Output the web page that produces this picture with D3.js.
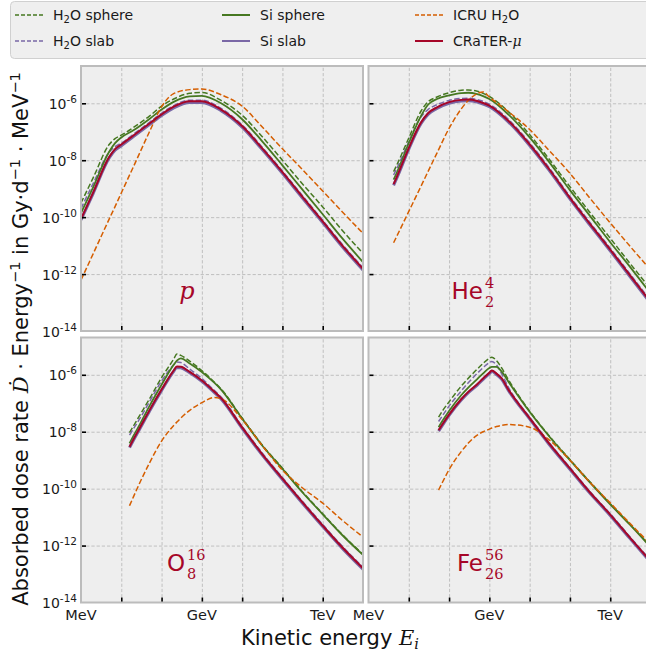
<!DOCTYPE html>
<html>
<head>
<meta charset="utf-8">
<script src="https://cdn.jsdelivr.net/npm/d3@7"></script>
<style>
  body { margin: 0; background: #ffffff; }
  svg { display: block; font-family: "DejaVu Sans", sans-serif; }
</style>
</head>
<body>
<svg id="chart" width="646" height="654"></svg>
<script>
// ---- data: kinetic energy in MeV, dose rates as log10(Gy/d/MeV) ----
const protonEnergy = [1, 2, 5, 7, 10, 20, 50, 100, 200, 500, 1000, 3000, 1e4, 3e4, 1e5, 3e5, 1e6, 3e6, 1e7];
const protonH2OSphere = [-9.50, -8.62, -7.45, -7.24, -7.12, -6.85, -6.45, -6.10, -5.85, -5.65, -5.62, -5.90, -6.42, -7.14, -8.00, -8.80, -9.64, -10.45, -11.27];
const protonH2OSlab   = [-9.70, -8.82, -7.72, -7.52, -7.40, -7.09, -6.67, -6.35, -6.08, -5.89, -5.89, -6.18, -6.76, -7.51, -8.38, -9.21, -10.11, -10.94, -11.78];
const protonSiSphere  = [-9.86, -8.95, -7.70, -7.40, -7.20, -6.95, -6.55, -6.22, -5.95, -5.76, -5.74, -6.00, -6.56, -7.30, -8.18, -9.00, -9.90, -10.73, -11.58];
const protonSiSlab    = [-10.10, -9.17, -7.92, -7.65, -7.49, -7.17, -6.75, -6.43, -6.16, -5.97, -5.97, -6.26, -6.84, -7.59, -8.46, -9.29, -10.19, -11.02, -11.86];
const protonICRU      = [-12.21, -11.29, -10.07, -9.63, -9.15, -8.23, -7.00, -6.12, -5.66, -5.52, -5.50, -5.70, -6.10, -6.80, -7.60, -8.30, -9.08, -9.80, -10.57];
const protonCrater    = [-10.07, -9.14, -7.89, -7.61, -7.45, -7.13, -6.71, -6.39, -6.12, -5.93, -5.93, -6.22, -6.80, -7.55, -8.42, -9.25, -10.15, -10.98, -11.82];

const heliumEnergy = [4.2, 5, 10, 20, 30, 50, 100, 200, 300, 500, 700, 1000, 3000, 1e4, 3e4, 1e5, 3e5, 1e6, 3e6, 1e7];
const heliumH2OSphere = [-8.40, -8.18, -7.22, -6.28, -5.95, -5.78, -5.63, -5.54, -5.53, -5.58, -5.65, -5.76, -6.30, -7.10, -7.95, -8.93, -9.80, -10.74, -11.60, -12.52];
const heliumH2OSlab   = [-8.52, -8.30, -7.35, -6.48, -6.22, -6.05, -5.90, -5.83, -5.82, -5.87, -5.93, -6.03, -6.57, -7.39, -8.25, -9.27, -10.15, -11.09, -11.97, -12.93];
const heliumSiSphere  = [-8.68, -8.45, -7.40, -6.45, -6.05, -5.85, -5.72, -5.64, -5.63, -5.68, -5.75, -5.85, -6.40, -7.20, -8.05, -9.05, -9.92, -10.88, -11.72, -12.68];
const heliumSiSlab    = [-8.88, -8.64, -7.61, -6.72, -6.39, -6.18, -6.00, -5.92, -5.91, -5.96, -6.03, -6.12, -6.66, -7.48, -8.34, -9.36, -10.24, -11.18, -12.06, -13.02];
const heliumICRU      = [-10.90, -10.68, -9.80, -8.92, -8.40, -7.75, -6.88, -6.20, -5.90, -5.66, -5.60, -5.78, -6.30, -6.92, -7.65, -8.46, -9.30, -10.20, -11.00, -11.85];
const heliumCrater    = [-8.84, -8.60, -7.57, -6.68, -6.35, -6.14, -5.96, -5.88, -5.87, -5.92, -5.99, -6.08, -6.62, -7.44, -8.30, -9.32, -10.20, -11.14, -12.02, -12.98];

const oxygenEnergy = [16, 20, 30, 50, 100, 200, 240, 300, 500, 1000, 2000, 3000, 1e4, 3e4, 1e5, 3e5, 1e6, 3e6, 1e7];
const oxygenH2OSphere = [-8.03, -7.80, -7.38, -6.85, -6.10, -5.45, -5.27, -5.32, -5.52, -5.85, -6.25, -6.50, -7.52, -8.43, -9.28, -10.08, -10.88, -11.60, -12.31];
const oxygenH2OSlab   = [-8.12, -7.90, -7.50, -6.95, -6.22, -5.65, -5.55, -5.57, -5.80, -6.13, -6.54, -6.78, -7.81, -8.71, -9.61, -10.41, -11.26, -12.01, -12.76];
const oxygenSiSphere  = [-8.41, -8.15, -7.70, -7.10, -6.35, -5.65, -5.50, -5.42, -5.60, -5.90, -6.27, -6.52, -7.54, -8.45, -9.30, -10.10, -10.90, -11.62, -12.33];
const oxygenSiSlab    = [-8.56, -8.30, -7.85, -7.28, -6.55, -5.88, -5.74, -5.75, -5.93, -6.23, -6.61, -6.85, -7.88, -8.78, -9.68, -10.48, -11.33, -12.08, -12.83];
const oxygenICRU      = [-10.60, -10.29, -9.74, -9.10, -8.33, -7.78, -7.66, -7.52, -7.25, -6.98, -6.80, -6.84, -7.57, -8.45, -9.35, -9.95, -10.51, -11.10, -11.70];
const oxygenCrater    = [-8.53, -8.27, -7.82, -7.25, -6.52, -5.85, -5.71, -5.72, -5.90, -6.20, -6.58, -6.82, -7.85, -8.75, -9.65, -10.45, -11.30, -12.05, -12.80];

const ironEnergy = [55, 70, 100, 200, 300, 500, 700, 1000, 1150, 1500, 2000, 3000, 1e4, 3e4, 1e5, 3e5, 1e6, 3e6, 1e7];
const ironH2OSphere = [-7.49, -7.25, -6.95, -6.40, -6.12, -5.80, -5.60, -5.42, -5.38, -5.50, -5.75, -6.18, -7.28, -8.13, -8.98, -9.73, -10.53, -11.23, -12.03];
const ironH2OSlab   = [-7.64, -7.42, -7.10, -6.57, -6.28, -5.95, -5.75, -5.57, -5.53, -5.65, -5.95, -6.45, -7.49, -8.37, -9.26, -10.07, -10.88, -11.67, -12.52];
const ironSiSphere  = [-7.84, -7.60, -7.27, -6.72, -6.45, -6.15, -5.95, -5.76, -5.72, -5.72, -5.88, -6.25, -7.30, -8.15, -9.00, -9.75, -10.55, -11.25, -12.05];
const ironSiSlab    = [-7.98, -7.75, -7.43, -6.89, -6.63, -6.36, -6.16, -5.96, -5.88, -5.99, -6.15, -6.56, -7.55, -8.43, -9.32, -10.13, -10.94, -11.73, -12.58];
const ironICRU      = [-10.05, -9.75, -9.33, -8.70, -8.40, -8.12, -8.00, -7.91, -7.87, -7.82, -7.78, -7.75, -7.84, -8.28, -9.00, -9.75, -10.50, -11.20, -11.95];
const ironCrater    = [-7.95, -7.72, -7.40, -6.86, -6.60, -6.33, -6.13, -5.93, -5.85, -5.96, -6.12, -6.53, -7.52, -8.40, -9.29, -10.10, -10.91, -11.70, -12.55];

// axis ticks
const xGridValues = [10, 100, 1e3, 1e4, 1e5, 1e6];
const xTickLabels = [[1, "MeV"], [1e3, "GeV"], [1e6, "TeV"]];
const yTickValues = [1e-14, 1e-12, 1e-10, 1e-8, 1e-6];
const yTickExponents = ["-14", "-12", "-10", "-8", "-6"];

// series styles (drawing order)
const seriesStyles = [
  { name: "H2O sphere", color: "#467821", dash: "5.5,2.4", width: 1.5 },
  { name: "H2O slab",   color: "#7A68A6", dash: "5.5,2.4", width: 1.5 },
  { name: "Si sphere",  color: "#467821", dash: null, width: 1.8 },
  { name: "Si slab",    color: "#7A68A6", dash: null, width: 3 },
  { name: "ICRU H2O",   color: "#D55E00", dash: "5.5,2.4", width: 1.5 },
  { name: "CRaTER-mu",  color: "#A60628", dash: null, width: 2 }
];

const panels = [
  { col: 0, row: 0, energy: protonEnergy, series: [protonH2OSphere, protonH2OSlab, protonSiSphere, protonSiSlab, protonICRU, protonCrater], label: "p" },
  { col: 1, row: 0, energy: heliumEnergy, series: [heliumH2OSphere, heliumH2OSlab, heliumSiSphere, heliumSiSlab, heliumICRU, heliumCrater], label: ["He", "4", "2"] },
  { col: 0, row: 1, energy: oxygenEnergy, series: [oxygenH2OSphere, oxygenH2OSlab, oxygenSiSphere, oxygenSiSlab, oxygenICRU, oxygenCrater], label: ["O", "16", "8"] },
  { col: 1, row: 1, energy: ironEnergy, series: [ironH2OSphere, ironH2OSlab, ironSiSphere, ironSiSlab, ironICRU, ironCrater], label: ["Fe", "56", "26"] }
];

// ---- layout ----
const colX = [81, 368.5];
const rowY = [66, 337.5];
const PW = 282, PH = 265;
const yTop = Math.pow(10, -4.69);
const crimson = "#A60628";
const serif = "'DejaVu Serif', 'Liberation Serif', serif";

const svg = d3.select("#chart");
const defs = svg.append("defs");

panels.forEach((p, i) => {
  const x0 = colX[p.col], y0 = rowY[p.row];
  const x = d3.scaleLog().domain([1, 1e7]).range([x0, x0 + PW]);
  const y = d3.scaleLog().domain([1e-14, yTop]).range([y0 + PH, y0]);
  const g = svg.append("g");

  g.append("rect").attr("x", x0).attr("y", y0).attr("width", PW).attr("height", PH)
    .attr("fill", "#eeeeee");

  // grid
  g.append("g").attr("transform", `translate(0,${y0 + PH})`)
    .call(d3.axisBottom(x).tickValues(xGridValues).tickSize(-PH).tickFormat(""))
    .call(a => a.select(".domain").remove())
    .call(a => a.selectAll("line").attr("stroke", "#b2b2b2").attr("stroke-width", 0.8).attr("stroke-dasharray", "3.2,2"));
  g.append("g").attr("transform", `translate(${x0},0)`)
    .call(d3.axisLeft(y).tickValues(yTickValues.slice(1)).tickSize(-PW).tickFormat(""))
    .call(a => a.select(".domain").remove())
    .call(a => a.selectAll("line").attr("stroke", "#b2b2b2").attr("stroke-width", 0.8).attr("stroke-dasharray", "3.2,2"));

  // curves
  const clipId = "clip" + i;
  defs.append("clipPath").attr("id", clipId).append("rect")
    .attr("x", x0).attr("y", y0).attr("width", PW).attr("height", PH);
  const line = d3.line()
    .x(d => x(d[0]))
    .y(d => y(Math.pow(10, d[1])))
    .curve(d3.curveMonotoneX);
  const curves = g.append("g").attr("clip-path", `url(#${clipId})`);
  p.series.forEach((vals, k) => {
    const st = seriesStyles[k];
    curves.append("path")
      .datum(p.energy.map((e, j) => [e, vals[j]]))
      .attr("d", line)
      .attr("fill", "none")
      .attr("stroke", st.color)
      .attr("stroke-width", st.width)
      .attr("stroke-dasharray", st.dash)
      .attr("stroke-linejoin", "round");
  });

  // ticks (inward)
  g.append("g").attr("transform", `translate(0,${y0 + PH})`)
    .call(d3.axisBottom(x).tickValues(xGridValues).tickSize(-5).tickFormat(""))
    .call(a => a.select(".domain").remove())
    .call(a => a.selectAll("line").attr("stroke", "#000").attr("stroke-width", 1.6));
  g.append("g").attr("transform", `translate(${x0},0)`)
    .call(d3.axisLeft(y).tickValues(yTickValues.slice(1)).tickSize(-5).tickFormat(""))
    .call(a => a.select(".domain").remove())
    .call(a => a.selectAll("line").attr("stroke", "#000").attr("stroke-width", 1.6));

  // frame
  g.append("rect").attr("x", x0).attr("y", y0).attr("width", PW).attr("height", PH)
    .attr("fill", "none").attr("stroke", "#bcbcbc").attr("stroke-width", 2);

  // y tick labels on the left column
  if (p.col === 0) {
    yTickValues.forEach((v, j) => {
      const t = g.append("text").attr("x", x0 - 4).attr("y", y(v) + 5.5)
        .attr("text-anchor", "end").attr("font-size", 14).attr("fill", "#1a1a1a");
      t.append("tspan").text("10");
      t.append("tspan").attr("font-size", 10.5).attr("dy", -6).text(yTickExponents[j]);
    });
  }
  // x tick labels on the bottom row
  if (p.row === 1) {
    xTickLabels.forEach(([v, s]) => {
      g.append("text").attr("x", x(v)).attr("y", y0 + PH + 17.5)
        .attr("text-anchor", "middle").attr("font-size", 14.5).attr("fill", "#1a1a1a").text(s);
    });
  }

  // particle label
  const lx = [187, 485][p.col], ly = y0 + 233;
  if (typeof p.label === "string") {
    g.append("text").attr("x", lx).attr("y", ly).attr("text-anchor", "middle")
      .attr("font-family", serif).attr("font-style", "italic").attr("font-size", 24)
      .attr("fill", crimson).text(p.label);
  } else {
    const [sym, mass, charge] = p.label;
    g.append("text").attr("x", lx - 2).attr("y", ly).attr("text-anchor", "end")
      .attr("font-size", 23).attr("fill", crimson).text(sym);
    g.append("text").attr("x", lx).attr("y", ly - 11).attr("font-family", serif)
      .attr("font-size", 14.5).attr("fill", crimson).text(mass);
    g.append("text").attr("x", lx).attr("y", ly + 8).attr("font-family", serif)
      .attr("font-size", 14.5).attr("fill", crimson).text(charge);
  }
});

// ---- legend ----
const legend = svg.append("g");
legend.append("rect").attr("x", 10.5).attr("y", 1.5).attr("width", 660).attr("height", 57)
  .attr("rx", 4).attr("fill", "#efefef").attr("stroke", "#d0d0d0").attr("stroke-width", 1);
const legendCols = [15, 222, 415];
const legendRows = [15, 41];
seriesStyles.forEach((st, k) => {
  const cx = legendCols[Math.floor(k / 2)], cy = legendRows[k % 2];
  legend.append("line").attr("x1", cx).attr("x2", cx + 28).attr("y1", cy).attr("y2", cy)
    .attr("stroke", st.color).attr("stroke-width", st.dash ? 1.5 : 2)
    .attr("stroke-dasharray", st.dash ? "4,2" : null);
  const t = legend.append("text").attr("x", cx + 38).attr("y", cy + 5)
    .attr("font-size", 14).attr("fill", "#1a1a1a");
  if (k === 0 || k === 1 || k === 4) {
    const pre = k === 4 ? "ICRU H" : "H";
    const post = k === 0 ? "O sphere" : (k === 1 ? "O slab" : "O");
    t.append("tspan").text(pre);
    t.append("tspan").attr("font-size", 10).attr("dy", 3).text("2");
    t.append("tspan").attr("dy", -3).text(post);
  } else if (k === 5) {
    t.append("tspan").text("CRaTER-");
    t.append("tspan").attr("font-family", serif).attr("font-style", "italic").text("μ");
  } else {
    t.text(st.name);
  }
});

// ---- axis titles ----
const yt = svg.append("text").attr("transform", "translate(28,339) rotate(-90)")
  .attr("text-anchor", "middle").attr("font-size", 21).attr("fill", "#111");
yt.append("tspan").text("Absorbed dose rate ");
yt.append("tspan").attr("font-family", serif).attr("font-style", "italic").text("Ḋ");
yt.append("tspan").text(" · Energy");
yt.append("tspan").attr("font-size", 14.5).attr("dy", -8).text("−1");
yt.append("tspan").attr("dy", 8).text(" in Gy·d");
yt.append("tspan").attr("font-size", 14.5).attr("dy", -8).text("−1");
yt.append("tspan").attr("dy", 8).text(" · MeV");
yt.append("tspan").attr("font-size", 14.5).attr("dy", -8).text("−1");

const xt = svg.append("text").attr("x", 330).attr("y", 645)
  .attr("text-anchor", "middle").attr("font-size", 21).attr("fill", "#111");
xt.append("tspan").text("Kinetic energy ");
xt.append("tspan").attr("font-family", serif).attr("font-style", "italic").text("E");
xt.append("tspan").attr("font-family", serif).attr("font-style", "italic")
  .attr("font-size", 14.5).attr("dy", 4).text("i");
</script>
</body>
</html>
